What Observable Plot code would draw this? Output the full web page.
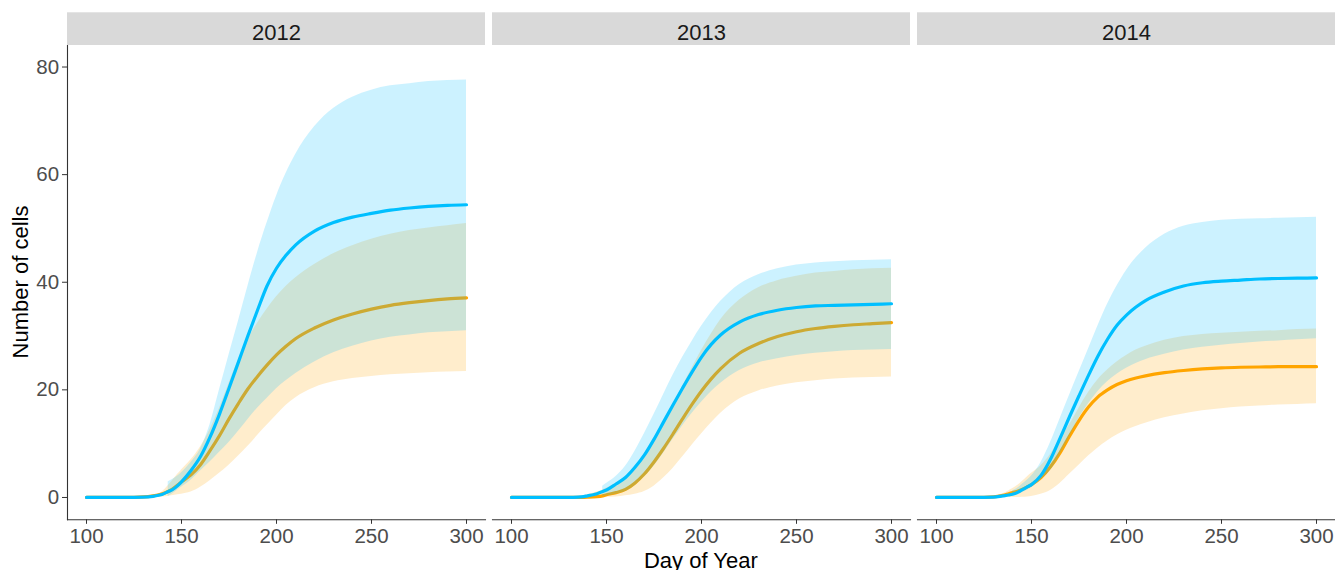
<!DOCTYPE html>
<html><head><meta charset="utf-8">
<script src="https://cdn.jsdelivr.net/npm/d3@7"></script>
<script src="https://cdn.jsdelivr.net/npm/@observablehq/plot@0.6"></script>
<style>body{margin:0;background:#fff}#chart{width:1335px;height:570px}</style>
</head><body><div id="chart"></div>
<script>
const n = null;
const years = ["2012", "2013", "2014"];
const xTicks = [100, 150, 200, 250, 300];
const yTicks = [0, 20, 40, 60, 80];
const days = [100,110,120,130,135,138,140,143,145,148,150,155,160,165,170,175,180,185,190,195,200,205,210,220,230,240,250,260,270,280,290,300];

// 2012
const blueMid2012  = [0,0,0,0.05,0.2,0.4,0.6,1.1,1.4,2.2,2.9,5.0,7.6,11.2,15.5,20.3,25.2,30.1,34.8,39.3,42.6,45.0,46.9,49.5,51.1,52.1,52.8,53.4,53.8,54.1,54.3,54.4];
const blueLow2012  = [n,n,n,n,n,n,n,0.2,0.6,1.4,1.9,3.2,4.9,6.6,8.4,10.2,12.3,14.5,16.6,18.4,20.2,21.7,23.0,25.2,26.9,28.1,29.1,29.8,30.2,30.6,30.8,31.0];
const blueHigh2012 = [n,n,n,n,n,n,n,2.9,3.3,4.0,4.6,6.5,9.0,13.5,20.0,26.5,32.8,39.3,45.5,51.0,56.0,60.2,63.7,68.9,72.3,74.4,75.7,76.5,76.9,77.3,77.5,77.6];
const orangeMid2012  = [0,0,0,0.1,0.3,0.5,0.7,1.1,1.5,2.3,2.9,4.2,6.1,8.7,11.5,14.6,17.5,20.2,22.5,24.6,26.5,28.1,29.5,31.5,33.0,34.1,35.0,35.7,36.2,36.6,36.9,37.1];
const orangeLow2012  = [n,n,n,n,n,0,0.1,0.2,0.3,0.5,0.6,1.0,1.9,3.1,4.5,6.0,7.7,9.5,11.5,13.4,15.3,17.1,18.5,20.4,21.5,22.1,22.5,22.8,23.0,23.2,23.3,23.4];
const orangeHigh2012 = [n,n,n,n,n,0.6,1.1,2.2,3.0,4.3,5.1,7.0,9.4,12.6,16.6,21.2,25.6,29.4,32.4,35.0,37.3,39.2,40.8,43.3,45.3,46.8,48.0,48.9,49.6,50.1,50.5,50.9];

// 2013
const blueMid2013  = [0,0,0,0,0.05,0.15,0.3,0.5,0.7,1.1,1.4,2.5,3.7,5.6,7.9,10.8,14.0,17.2,20.3,23.3,26.1,28.4,30.2,32.6,34.0,34.8,35.3,35.6,35.7,35.8,35.9,36.0];
const blueLow2013  = [n,n,n,n,n,n,n,n,n,0.2,0.3,0.6,1.1,2.2,3.8,5.8,8.2,10.8,13.3,15.6,17.7,19.6,21.2,23.6,25.0,25.8,26.4,26.8,27.1,27.3,27.4,27.5];
const blueHigh2013 = [n,n,n,n,n,n,n,n,n,2.1,2.6,3.9,5.8,8.6,11.9,15.4,19.1,22.7,26.0,29.0,31.8,34.3,36.4,39.6,41.4,42.5,43.2,43.6,43.8,44.0,44.1,44.2];
const orangeMid2013  = [0,0,0,0,0,0.02,0.05,0.1,0.15,0.3,0.5,0.9,1.5,2.7,4.4,6.6,9.1,11.8,14.6,17.3,19.8,22.0,23.9,26.8,28.6,29.9,30.8,31.4,31.8,32.1,32.3,32.5];
const orangeLow2013  = [n,n,n,n,n,0,0,0,0,0,0.05,0.1,0.3,0.6,1.1,2.1,3.6,5.4,7.5,9.7,11.8,13.8,15.6,18.3,19.8,20.7,21.3,21.7,22.0,22.2,22.3,22.4];
const orangeHigh2013 = [n,n,n,n,n,0.3,0.5,0.8,1.0,1.4,1.7,2.6,3.8,5.5,7.8,10.6,13.8,17.2,20.6,24.0,27.3,30.3,33.0,36.7,39.0,40.3,41.1,41.7,42.0,42.3,42.5,42.6];

// 2014
const blueMid2014  = [0,0,0,0.05,0.3,0.45,0.6,1.0,1.4,2.0,2.4,4.1,7.1,11.0,15.0,18.9,22.7,26.3,29.4,32.0,33.9,35.4,36.6,38.2,39.3,39.9,40.2,40.4,40.6,40.7,40.75,40.8];
const blueLow2014  = [n,n,n,n,n,n,0.3,0.6,0.9,1.4,1.8,3.3,5.0,8.0,11.3,14.7,17.4,19.7,21.5,22.9,24.0,24.9,25.6,26.6,27.4,27.9,28.3,28.6,28.9,29.1,29.3,29.5];
const blueHigh2014 = [n,n,n,n,n,n,1.2,1.8,2.4,3.3,4.0,6.5,10.2,14.6,19.0,23.3,27.6,31.9,35.9,39.3,42.2,44.5,46.3,48.9,50.4,51.1,51.5,51.7,51.8,51.9,52.0,52.1];
const orangeMid2014  = [0,0,0,0.1,0.4,0.7,0.9,1.2,1.5,2.0,2.4,3.7,5.7,8.3,11.4,14.3,16.8,18.7,20.0,21.0,21.7,22.2,22.6,23.2,23.6,23.9,24.1,24.2,24.25,24.3,24.3,24.3];
const orangeLow2014  = [n,n,n,0,0,0,0,0,0.05,0.1,0.2,0.6,1.3,2.6,4.3,6.0,7.7,9.2,10.5,11.6,12.5,13.2,13.8,14.8,15.5,16.1,16.5,16.8,17.0,17.2,17.3,17.4];
const orangeHigh2014 = [n,n,n,0.2,0.7,1.2,1.6,2.3,2.9,3.9,4.5,5.9,8.0,10.8,13.5,16.6,19.5,21.9,23.7,25.2,26.4,27.4,28.1,29.2,29.9,30.3,30.5,30.7,30.9,31.0,31.2,31.3];

const series = [
  {year: "2012", s: "blue",   mid: blueMid2012,   lo: blueLow2012,   hi: blueHigh2012},
  {year: "2012", s: "orange", mid: orangeMid2012, lo: orangeLow2012, hi: orangeHigh2012},
  {year: "2013", s: "blue",   mid: blueMid2013,   lo: blueLow2013,   hi: blueHigh2013},
  {year: "2013", s: "orange", mid: orangeMid2013, lo: orangeLow2013, hi: orangeHigh2013},
  {year: "2014", s: "blue",   mid: blueMid2014,   lo: blueLow2014,   hi: blueHigh2014},
  {year: "2014", s: "orange", mid: orangeMid2014, lo: orangeLow2014, hi: orangeHigh2014}
];
const rows = [];
for (const S of series) days.forEach((d, i) => rows.push({year: S.year, s: S.s, day: d, mid: S.mid[i], lo: S.lo[i], hi: S.hi[i]}));

const colors = {blue: "#00BFFF", orange: "#FFA500"};
const xDomain = [90, 310];
const yDomain = [-4.15, 84];
const font = "'Liberation Sans', Arial, Helvetica, sans-serif";

function layer(s) {
  const line = rows.filter(r => r.s === s);
  const band = line.filter(r => r.lo != null && r.hi != null);
  return [
    Plot.areaY(band, {x: "day", y1: "lo", y2: "hi", fx: "year", z: "year", fill: colors[s], fillOpacity: 0.2, curve: "monotone-x"}),
    Plot.line(line, {x: "day", y: "mid", fx: "year", z: "year", stroke: colors[s], strokeWidth: 3.2, curve: "monotone-x"})
  ];
}

const chart = Plot.plot({
  width: 1335, height: 570,
  marginTop: 45, marginBottom: 50.7, marginLeft: 66.7, marginRight: 0,
  style: {fontFamily: font, background: "#fff", overflow: "visible"},
  fx: {domain: years, paddingInner: 0.0172, paddingOuter: 0, axis: null, label: null},
  x: {domain: xDomain},
  y: {domain: yDomain},
  marks: [
    Plot.rect(years, {fx: d => d, x1: xDomain[0], x2: xDomain[1], y1: yDomain[1], y2: yDomain[1], insetTop: -32.7, fill: "#D9D9D9"}),
    Plot.text(years, {fx: d => d, text: d => d, frameAnchor: "top", lineAnchor: "middle", dy: -12.7, fontSize: 22, fill: "#1A1A1A"}),
    ...layer("orange"),
    ...layer("blue"),
    Plot.frame({anchor: "bottom", stroke: "#333333", strokeWidth: 1.1}),
    Plot.frame({anchor: "left", facetAnchor: "left", stroke: "#333333", strokeWidth: 1.1}),
    Plot.axisX({ticks: xTicks, tickSize: 4.5, tickPadding: 4.5, fontSize: 20.5, fill: "#4D4D4D", stroke: "#333333", label: null}),
    Plot.axisY({ticks: yTicks, tickSize: 5, tickPadding: 3.4, fontSize: 20.5, fill: "#4D4D4D", stroke: "#333333", label: null})
  ]
});
document.getElementById("chart").appendChild(chart);

const svg = d3.select(chart);
svg.append("text").attr("x", (66.7 + 1335) / 2).attr("y", 567.5)
  .attr("text-anchor", "middle").attr("font-size", 22).attr("font-family", font).attr("fill", "#000")
  .text("Day of Year");
svg.append("text").attr("transform", "translate(28.3,282) rotate(-90)")
  .attr("text-anchor", "middle").attr("font-size", 22).attr("font-family", font).attr("fill", "#000")
  .text("Number of cells");
</script></body></html>
